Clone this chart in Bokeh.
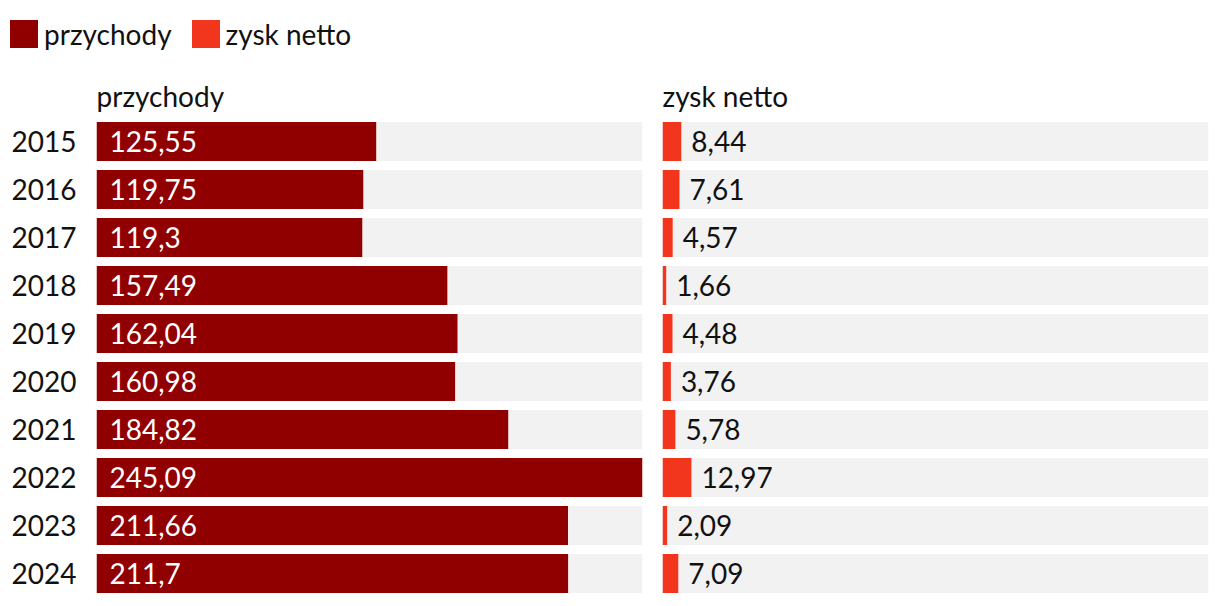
from bokeh.plotting import figure
from bokeh.layouts import column, row
from bokeh.models import ColumnDataSource, Range1d, FactorRange, Legend, LegendItem
from bokeh.core.properties import value
from bokeh.embed import file_html
from bokeh.resources import INLINE

years = ["2015", "2016", "2017", "2018", "2019", "2020", "2021", "2022", "2023", "2024"]
przychody = [125.55, 119.75, 119.3, 157.49, 162.04, 160.98, 184.82, 245.09, 211.66, 211.7]
zysk_netto = [8.44, 7.61, 4.57, 1.66, 4.48, 3.76, 5.78, 12.97, 2.09, 7.09]
series_names = ["przychody", "zysk netto"]

FONT = "Lato"
FS = "28px"
DARK = "#900000"
RED = "#f2361e"
BG = "#f2f2f2"

xmax = max(przychody)
fmt = lambda v: ("%g" % v).replace(".", ",")

def make_panel(vals, name, color, width, show_years, border_left, border_right, inside):
    src = ColumnDataSource(dict(y=years, v=vals, full=[xmax] * len(vals),
                                lab=[fmt(v) for v in vals]))
    p = figure(width=width, height=533, output_backend="svg", toolbar_location=None,
               x_range=Range1d(0, xmax), y_range=FactorRange(factors=list(reversed(years))),
               min_border_left=border_left, min_border_right=border_right,
               min_border_top=53, min_border_bottom=0, title=name)
    p.hbar(y="y", left=0, right="full", height=0.8125, source=src, color=BG, line_color=None)
    p.hbar(y="y", left=0, right="v", height=0.8125, source=src, color=color, line_color=None)
    if inside:
        p.text(x=0, y="y", text="lab", source=src, x_offset=13, text_baseline="middle",
               text_color="white", text_font=value(FONT), text_font_size=FS)
    else:
        p.text(x="v", y="y", text="lab", source=src, x_offset=10, text_baseline="middle",
               text_color="#111111", text_font=value(FONT), text_font_size=FS)
    p.title.text_font = FONT
    p.title.text_font_size = FS
    p.title.text_font_style = "normal"
    p.title.text_color = "#111111"
    p.title.align = "left"
    p.title.offset = 0
    p.title.standoff = 10
    p.xaxis.visible = False
    p.xgrid.visible = False
    p.ygrid.visible = False
    p.outline_line_color = None
    if show_years:
        ax = p.yaxis[0]
        ax.axis_line_color = None
        ax.major_tick_line_color = None
        ax.minor_tick_line_color = None
        ax.major_tick_out = 0
        ax.major_label_standoff = 20
        ax.major_label_text_font = FONT
        ax.major_label_text_font_size = FS
        ax.major_label_text_color = "#111111"
    else:
        p.yaxis.visible = False
    return p

left = make_panel(przychody, series_names[0], DARK, 652, True, 96, 10, True)
right = make_panel(zysk_netto, series_names[1], RED, 560, False, 10, 4, False)

# legend strip
lg = figure(width=1212, height=64, output_backend="svg", toolbar_location=None,
            x_range=Range1d(0, 1), y_range=Range1d(0, 1),
            min_border=0)
lg.xaxis.visible = False
lg.yaxis.visible = False
lg.grid.visible = False
lg.outline_line_color = None
off = ColumnDataSource(dict(x=[-5], y=[-5]))
r1 = lg.rect(x="x", y="y", width=0.1, height=0.1, source=off, color=DARK, line_color=None)
r2 = lg.rect(x="x", y="y", width=0.1, height=0.1, source=off, color=RED, line_color=None)
legend = Legend(items=[LegendItem(label=series_names[0], renderers=[r1]),
                       LegendItem(label=series_names[1], renderers=[r2])],
                orientation="horizontal", location=(6, 13),
                glyph_width=35, glyph_height=35, label_height=35,
                label_text_font=FONT, label_text_font_size=FS, label_text_color="#111111",
                label_standoff=3, spacing=16, padding=0, margin=0,
                border_line_color=None, background_fill_alpha=0)
lg.add_layout(legend)

layout = column(lg, row(left, right))
open("out.html", "w").write(file_html(layout, INLINE))
